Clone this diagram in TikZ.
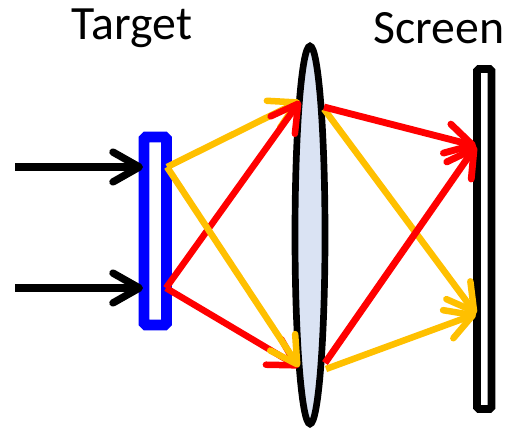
\documentclass[tikz,border=0pt]{standalone}
\usepackage{fontspec}
\setmainfont{Carlito}
\usetikzlibrary{arrows.meta}
\tikzset{
  ray/.style={line width=#1, -{Straight Barb[length=15pt, width=17pt, line width=#1, round]}},
  ray/.default=3.7pt,
  plate/.style={line width=6pt, rounded corners=1pt, fill=white},
  caption/.style={font=\fontsize{27.2}{32}\selectfont, inner sep=0pt}
}
\definecolor{rayred}{RGB}{255,0,0}
\definecolor{rayyellow}{RGB}{255,192,0}
\definecolor{lensblue}{RGB}{218,227,243}
\begin{document}
\begin{tikzpicture}[x=0.02cm, y=-0.02cm]
\useasboundingbox (0,0) rectangle (507,427);

\node [caption] (target) at (132,28) {Target};
\node [caption] (screen) at (439,28) {Screen};

\draw [plate, draw=blue] (144,137) rectangle (166.5,325);
\draw [plate, draw=black, line width=4.3pt] (477,69) rectangle (491.5,409);
\draw [line width=3.8pt, fill=lensblue] (310,235) ellipse (15 and 189);

\coordinate (in1) at (15,167); \coordinate (in2) at (15,288);
\coordinate (hit1) at (143,167); \coordinate (hit2) at (143,288);
\coordinate (out1) at (167,167); \coordinate (out2) at (166,288);
\coordinate (lensa) at (300,101); \coordinate (lensb) at (299,367);
\coordinate (reda) at (324,107); \coordinate (yela) at (324,109);
\coordinate (redb) at (325,363); \coordinate (yelb) at (326,369);
\coordinate (scra) at (476,146); \coordinate (scrb) at (476,314);

\draw [ray=4.2pt] (in1) -- (hit1);
\draw [ray=4.2pt] (in2) -- (hit2);

\draw [ray, rayyellow] (out1) -- (lensa);
\draw [ray, rayred] (out2) -- (lensa);
\draw [ray, rayred] (out2) -- (lensb);
\draw [ray, rayyellow] (out1) -- (lensb);

\draw [ray, rayyellow] (yela) -- (scrb);
\draw [ray, rayyellow] (yelb) -- (scrb);
\draw [ray=3.9pt, rayred] (reda) -- (scra);
\draw [ray=3.9pt, rayred] (redb) -- (scra);
\end{tikzpicture}
\end{document}
